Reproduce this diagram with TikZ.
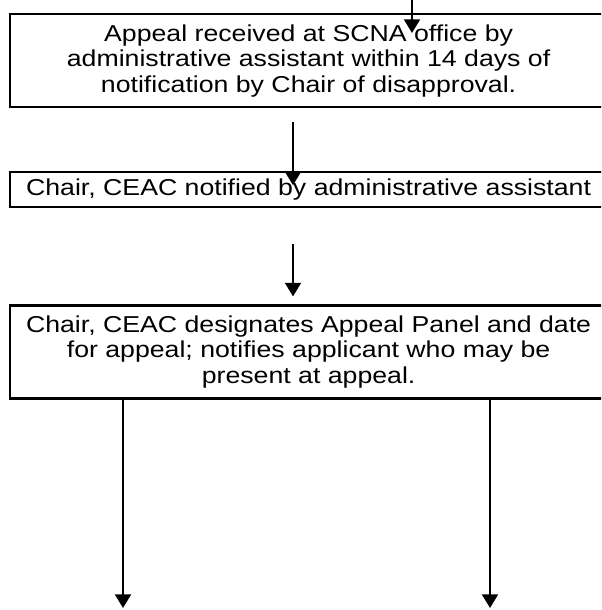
\documentclass[tikz,border=0pt]{standalone}
\usepackage{fontspec}
\setmainfont{Liberation Sans}[FakeStretch=1.16]
\usetikzlibrary{arrows.meta,positioning}

\begin{document}
\begin{tikzpicture}[
  font=\fontsize{11.5}{12.75}\selectfont,
  node distance = 31.5pt, % y-dist
  stepbox/.style = {rectangle, draw, line width=1.1pt,
                    minimum width=298.5pt, inner sep=0pt, align=center},
  flow/.style = {-{Triangle[length=6.8pt,width=8pt]}, line width=0.9pt}
]
\useasboundingbox (0,0) rectangle (300.5pt,-305pt);
\clip (0,0) rectangle (300.5pt,-305pt);

% Boxes
\node[stepbox, minimum height=46.5pt, anchor=north west] (recv) at (4.5pt,-6.5pt)
  {Appeal received at SCNA office by\\
   administrative assistant within 14 days of\\
   notification by Chair of disapproval.};
\node[stepbox, minimum height=17.5pt, below=of recv] (notify)
  {Chair, CEAC notified by administrative assistant};
\node[stepbox, minimum height=46.5pt, below=48pt of notify] (panel)
  {Chair, CEAC designates Appeal Panel and date\\
   for appeal; notifies applicant who may be\\
   present at appeal.};

% Arrow columns and free ends
\coordinate (in)   at (206pt,0);
\coordinate (mid)  at (146.5pt,0);
\coordinate (left) at (61.5pt,-305pt);
\coordinate (right) at (245pt,-305pt);

% Arrows
\draw[flow, shorten >=-10pt] (in) -- (in |- recv.north);
\draw[flow, shorten <=7pt, shorten >=-7pt] (recv.south -| mid) -- (notify.north -| mid);
\draw[flow, shorten <=18pt, shorten >=4pt] (notify.south -| mid) -- (panel.north -| mid);
\draw[flow, shorten >=1pt] (panel.south -| left) -- (left);
\draw[flow, shorten >=1pt] (panel.south -| right) -- (right);

\end{tikzpicture}
\end{document}
